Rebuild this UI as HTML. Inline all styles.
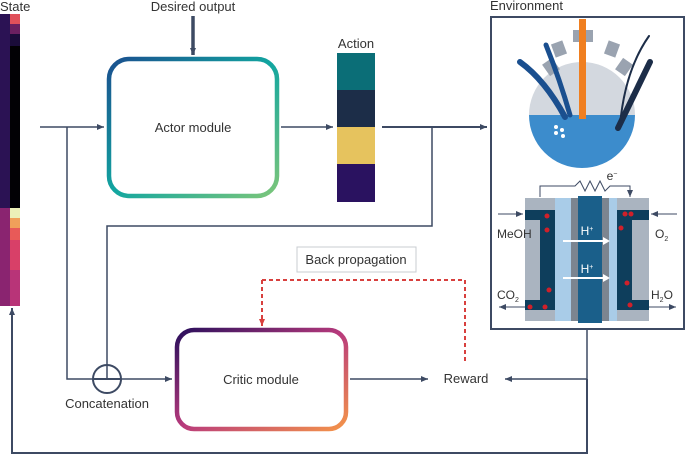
<!DOCTYPE html>
<html><head><meta charset="utf-8"><style>
html,body{margin:0;padding:0;background:#fff;width:685px;height:456px;overflow:hidden}
svg{display:block;font-family:"Liberation Sans",sans-serif}
</style></head><body>
<svg width="685" height="456" viewBox="0 0 685 456">
<defs>
<linearGradient id="ga" x1="0" y1="0" x2="1" y2="1"><stop offset="0" stop-color="#1a4f8f"/><stop offset="0.5" stop-color="#12a6a0"/><stop offset="1" stop-color="#7cc67a"/></linearGradient>
<linearGradient id="gc" x1="0" y1="0" x2="1" y2="1"><stop offset="0" stop-color="#2a0f5c"/><stop offset="0.5" stop-color="#b83a7c"/><stop offset="1" stop-color="#f4944a"/></linearGradient>
<marker id="ar" markerWidth="8" markerHeight="8" refX="7" refY="4" orient="auto" markerUnits="userSpaceOnUse"><path d="M0,1 L7,4 L0,7 z" fill="#3d4a63"/></marker>
<marker id="ar2" markerWidth="8" markerHeight="8" refX="7" refY="4" orient="auto" markerUnits="userSpaceOnUse"><path d="M0,1 L7,4 L0,7 z" fill="#d8403e"/></marker>
</defs>
<text x="0" y="11" font-size="13" fill="#333">State</text>
<rect x="0" y="14" width="10" height="194" fill="#2b1254"/>
<rect x="0" y="208" width="10" height="98" fill="#8a2470"/>
<rect x="10" y="14" width="10" height="10" fill="#e0505a"/>
<rect x="10" y="24" width="10" height="10" fill="#6a2060"/>
<rect x="10" y="34" width="10" height="12" fill="#1a0c3a"/>
<rect x="10" y="46" width="10" height="162" fill="#020105"/>
<rect x="10" y="208" width="10" height="10" fill="#ecf0b8"/>
<rect x="10" y="218" width="10" height="10" fill="#f0a05a"/>
<rect x="10" y="228" width="10" height="12" fill="#e85a58"/>
<rect x="10" y="240" width="10" height="30" fill="#d84068"/>
<rect x="10" y="270" width="10" height="36" fill="#b83478"/>
<g stroke="#3d4a63" stroke-width="1.5" fill="none">
<line x1="40" y1="127" x2="104" y2="127" marker-end="url(#ar)"/>
<polyline points="67,127 67,379 172,379" marker-end="url(#ar)"/>
<line x1="281" y1="127" x2="333" y2="127" marker-end="url(#ar)"/>
<line x1="382" y1="127" x2="487" y2="127" stroke-width="2" marker-end="url(#ar)"/>
<polyline points="432,127 432,226 107,226 107,379"/>
<circle cx="107" cy="379" r="14" stroke-width="2"/>
<line x1="93" y1="379" x2="121" y2="379" stroke-width="2"/>
<line x1="350" y1="379" x2="428" y2="379" marker-end="url(#ar)"/>
<polyline points="587,329 587,379 505,379" marker-end="url(#ar)"/>
<polyline points="587,379 587,453 12,453 12,308" stroke-width="2" marker-end="url(#ar)"/>
<line x1="193" y1="16" x2="193" y2="55" stroke-width="3.5" marker-end="url(#ar)"/>
</g>
<text x="193" y="11" font-size="13" fill="#333" text-anchor="middle">Desired output</text>
<rect x="109" y="59" width="168" height="137" rx="20" fill="#fff" stroke="url(#ga)" stroke-width="4.5"/>
<text x="193" y="132" font-size="13" fill="#333" text-anchor="middle">Actor module</text>
<text x="356" y="48" font-size="13" fill="#333" text-anchor="middle">Action</text>
<rect x="337" y="53" width="38" height="37" fill="#0b6e77"/>
<rect x="337" y="90" width="38" height="37" fill="#1c2d48"/>
<rect x="337" y="127" width="38" height="37" fill="#e6c35e"/>
<rect x="337" y="164" width="38" height="38" fill="#2a1260"/>
<rect x="177" y="330" width="169" height="99" rx="17" fill="#fff" stroke="url(#gc)" stroke-width="4.5"/>
<text x="261" y="384" font-size="13" fill="#333" text-anchor="middle">Critic module</text>
<text x="107" y="408" font-size="13" fill="#333" text-anchor="middle">Concatenation</text>
<text x="466" y="383" font-size="13" fill="#333" text-anchor="middle">Reward</text>
<rect x="297" y="247" width="119" height="25" fill="#fff" stroke="#c8ccd2"/>
<text x="356" y="264" font-size="13" fill="#333" text-anchor="middle">Back propagation</text>
<polyline points="262,280 465,280 465,364" stroke="#d8403e" stroke-width="2" stroke-dasharray="4,3" fill="none"/>
<line x1="262" y1="280" x2="262" y2="326" stroke="#d8403e" stroke-width="2" stroke-dasharray="4,3" marker-end="url(#ar2)"/>
<text x="490" y="10" font-size="13" fill="#333">Environment</text>
<rect x="491" y="17" width="193" height="312" fill="#fff" stroke="#3d4a63" stroke-width="2"/>
<path d="M529,115 A53,53 0 0 1 635,115 Z" fill="#d3d8df"/>
<g fill="#9aa3b0">
<rect x="545" y="60" width="12" height="14" transform="rotate(-35 551 67)"/>
<rect x="553" y="42" width="12" height="14" transform="rotate(-20 559 49)"/>
<rect x="573" y="30" width="20" height="12"/>
<rect x="606" y="42" width="12" height="14" transform="rotate(20 612 49)"/>
<rect x="618" y="60" width="12" height="14" transform="rotate(35 624 67)"/>
</g>
<path d="M529,115 A53,53 0 0 0 635,115 Z" fill="#3c8ccc"/>
<g stroke-linecap="round" fill="none">
<path d="M520,62 Q545,80 565,117" stroke="#1a4f8f" stroke-width="6"/>
<path d="M546,45 Q560,80 570,115" stroke="#1a4f8f" stroke-width="5"/>
<path d="M649,36 Q625,70 620,125" stroke="#1c2d48" stroke-width="2"/>
<path d="M650,62 L618,128" stroke="#1c2d48" stroke-width="6"/>
</g>
<rect x="579" y="19" width="7" height="100" fill="#f07f20"/>
<g fill="#fff"><circle cx="556" cy="127" r="2"/><circle cx="562" cy="130" r="2"/><circle cx="556" cy="133" r="2"/><circle cx="563" cy="136" r="2"/></g>
<rect x="555" y="198" width="70" height="123" fill="#a9cce8"/>
<rect x="525" y="198" width="30" height="123" fill="#aab4c0"/>
<rect x="540" y="210" width="15" height="100" fill="#0e3e5c"/>
<rect x="525" y="210" width="30" height="10" fill="#0e3e5c"/>
<rect x="525" y="300" width="30" height="10" fill="#0e3e5c"/>
<rect x="571" y="198" width="38" height="123" fill="#7c8590"/>
<rect x="578" y="196" width="24" height="127" fill="#1a5f8a"/>
<rect x="617" y="198" width="32" height="123" fill="#aab4c0"/>
<rect x="617" y="210" width="15" height="100" fill="#0e3e5c"/>
<rect x="617" y="210" width="32" height="10" fill="#0e3e5c"/>
<rect x="617" y="300" width="32" height="10" fill="#0e3e5c"/>
<g stroke="#3d4a63" stroke-width="1" fill="none">
<polyline points="540,197 540,186 575,186 580,181 585,191 590,181 595,191 600,181 605,191 610,186 630,186 630,197" marker-end="url(#ar)"/>
<line x1="498" y1="214" x2="523" y2="214" marker-end="url(#ar)"/>
<line x1="677" y1="214" x2="651" y2="214" marker-end="url(#ar)"/>
<line x1="525" y1="307" x2="499" y2="307" marker-end="url(#ar)"/>
<line x1="649" y1="307" x2="676" y2="307" marker-end="url(#ar)"/>
</g>
<g stroke="#fff" stroke-width="2"><line x1="563" y1="241" x2="605" y2="241"/><line x1="563" y1="278" x2="605" y2="278"/></g>
<path d="M603,237 L610,241 L603,245z M603,274 L610,278 L603,282z" fill="#fff"/>
<text x="587" y="235" font-size="12" fill="#fff" text-anchor="middle">H<tspan font-size="7" dy="-4">+</tspan></text>
<text x="587" y="273" font-size="12" fill="#fff" text-anchor="middle">H<tspan font-size="7" dy="-4">+</tspan></text>
<text x="612" y="180" font-size="12" fill="#333" text-anchor="middle">e<tspan font-size="7" dy="-4">−</tspan></text>
<text x="497" y="238" font-size="12" fill="#333">MeOH</text>
<text x="655" y="238" font-size="12" fill="#333">O<tspan font-size="7" dy="3">2</tspan></text>
<text x="497" y="299" font-size="12" fill="#333">CO<tspan font-size="7" dy="3">2</tspan></text>
<text x="651" y="299" font-size="12" fill="#333">H<tspan font-size="7" dy="3">2</tspan><tspan dy="-3">O</tspan></text>
<g fill="#d0202a"><circle cx="547" cy="216" r="2.5"/><circle cx="547" cy="230" r="2.5"/><circle cx="549" cy="290" r="2.5"/><circle cx="530" cy="307" r="2.5"/><circle cx="545" cy="307" r="2.5"/><circle cx="625" cy="214" r="2.5"/><circle cx="631" cy="214" r="2.5"/><circle cx="621" cy="228" r="2.5"/><circle cx="627" cy="283" r="2.5"/><circle cx="630" cy="305" r="2.5"/></g>
</svg>
</body></html>
